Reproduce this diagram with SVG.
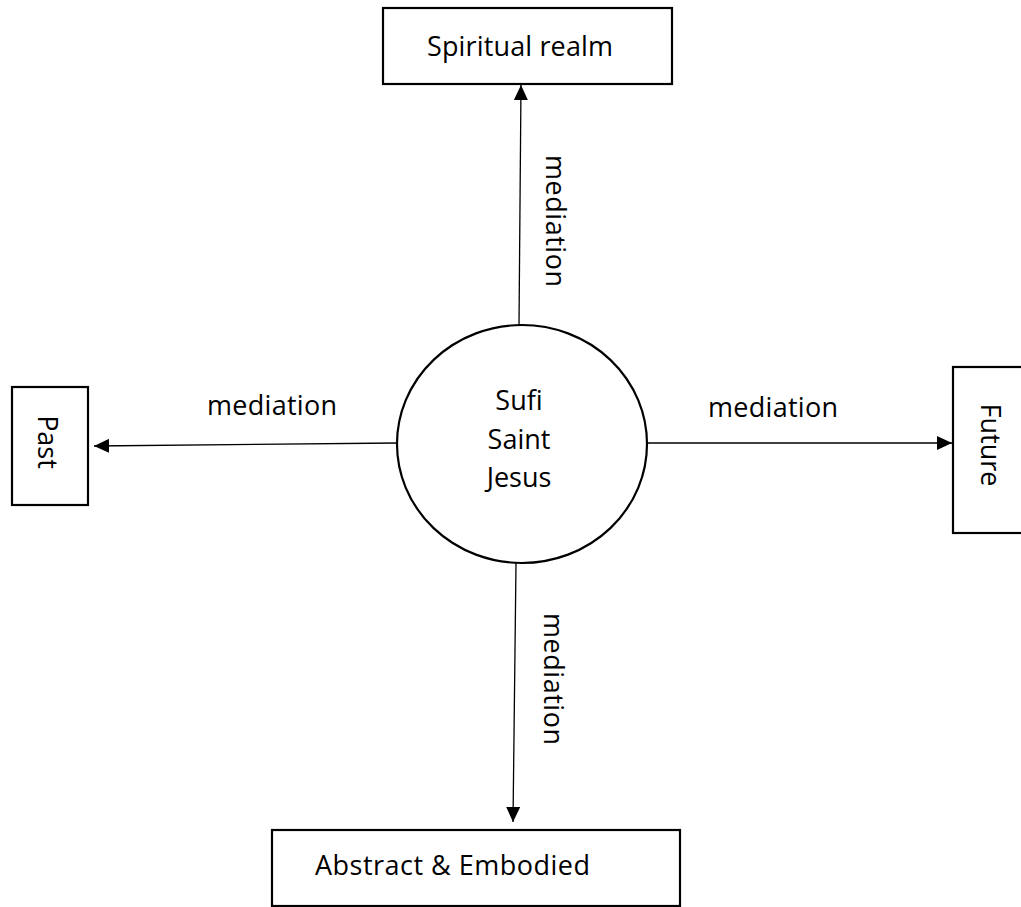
<svg xmlns="http://www.w3.org/2000/svg" width="1021" height="907" viewBox="0 0 1021 907">
  <style>
    .box { fill: #ffffff; stroke: #000000; stroke-width: 2.2; }
    .conn { stroke: #000000; stroke-width: 1.3; fill: none; }
    text { font-family: "Open Sans", "Noto Sans", "Liberation Sans", sans-serif; font-size: 27px; fill: #000000; }
  </style>
  <defs>
    <marker id="arrow" viewBox="0 0 15 14" refX="15" refY="7" markerWidth="15" markerHeight="14" markerUnits="userSpaceOnUse" orient="auto">
      <path d="M0,0 L15,7 L0,14 z" fill="#000000"/>
    </marker>
  </defs>
  <rect width="1021" height="907" fill="#ffffff"/>

  <g id="connectors">
    <line class="conn" x1="519" y1="325" x2="521" y2="85" marker-end="url(#arrow)"/>
    <line class="conn" x1="516" y1="563" x2="513" y2="822" marker-end="url(#arrow)"/>
    <line class="conn" x1="397" y1="443" x2="94" y2="446" marker-end="url(#arrow)"/>
    <line class="conn" x1="647" y1="443" x2="952" y2="443" marker-end="url(#arrow)"/>
    <text x="272" y="415" text-anchor="middle" textLength="130">mediation</text>
    <text x="773" y="417" text-anchor="middle" textLength="130">mediation</text>
    <text transform="translate(546,221) rotate(90)" text-anchor="middle" textLength="132">mediation</text>
    <text transform="translate(544,679) rotate(90)" text-anchor="middle" textLength="132">mediation</text>
  </g>

  <g id="spiritual">
    <rect class="box" x="383" y="8" width="289" height="76"/>
    <text x="427" y="56" textLength="186">Spiritual realm</text>
  </g>

  <g id="center">
    <ellipse class="box" cx="522" cy="444" rx="125" ry="119"/>
    <text x="519" y="410" text-anchor="middle">Sufi</text>
    <text x="519" y="449" text-anchor="middle">Saint</text>
    <text x="519" y="487" text-anchor="middle">Jesus</text>
  </g>

  <g id="past">
    <rect class="box" x="12" y="387" width="76" height="118"/>
    <text transform="translate(38,442) rotate(90)" text-anchor="middle">Past</text>
  </g>

  <g id="future">
    <rect class="box" x="953" y="367" width="100" height="166"/>
    <text transform="translate(981,445) rotate(90)" text-anchor="middle">Future</text>
  </g>

  <g id="abstract">
    <rect class="box" x="272" y="830" width="408" height="76"/>
    <text x="315" y="875" textLength="275">Abstract &amp; Embodied</text>
  </g>
</svg>
